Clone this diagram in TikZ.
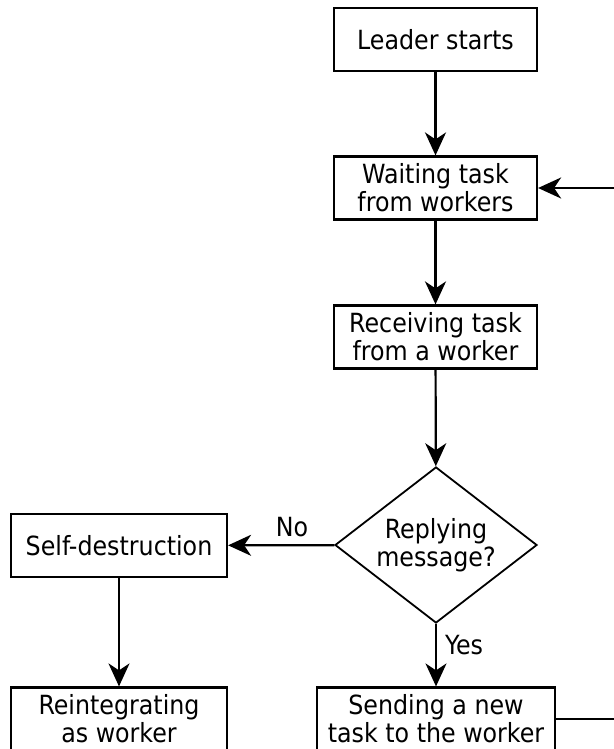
\documentclass[tikz,border=0pt]{standalone}
\usepackage{fontspec}
\setmainfont{DejaVu Sans Condensed}
\usetikzlibrary{arrows.meta,shapes.geometric}
\begin{document}
\begin{tikzpicture}[x=0.5pt,y=-0.5pt,
  font=\fontsize{13.2pt}{14pt}\selectfont,
  box/.style={draw,line width=1.1pt,minimum height=31.5pt,align=center,inner sep=0pt},
  decision/.style={draw,diamond,line width=0.9pt,minimum width=101pt,minimum height=78pt,aspect=1.3,inner sep=0pt,align=center},
  arr/.style={line width=1.1pt,-{Stealth[length=11.5pt,width=10.5pt,inset=3.5pt]}},
  lbl/.style={inner sep=0pt}]
\clip (0,0) rectangle (614,749);
\node[box,minimum width=101.5pt] (lead) at (435.5,39.5) {Leader starts};
\node[box,minimum width=101.5pt] (wait) at (435.5,188) {Waiting task\\from workers};
\node[box,minimum width=101.5pt] (recv) at (435.5,337) {Receiving task\\from a worker};
\node[decision] (dec) at (436,545) {Replying\\message?};
\node[box,minimum width=108pt] (self) at (119,545.5) {Self-destruction};
\node[box,minimum width=108pt] (reint) at (119,719) {Reintegrating\\as worker};
\node[box,minimum width=119pt] (send) at (436,719) {Sending a new\\task to the worker};
\coordinate (loop) at (660,0);
\draw[arr] (lead) -- (wait);
\draw[arr] (wait) -- (recv);
\draw[arr] (recv) -- (dec);
\draw[arr] (dec) -- (self);
\draw[arr] (self) -- (reint);
\draw[arr] (dec) -- (send);
\draw[arr] (send.east) -- (send.east -| loop) |- (wait.east);
\node[lbl] (no) at (292,527) {No};
\node[lbl] (yes) at (464,645) {Yes};
\end{tikzpicture}
\end{document}
